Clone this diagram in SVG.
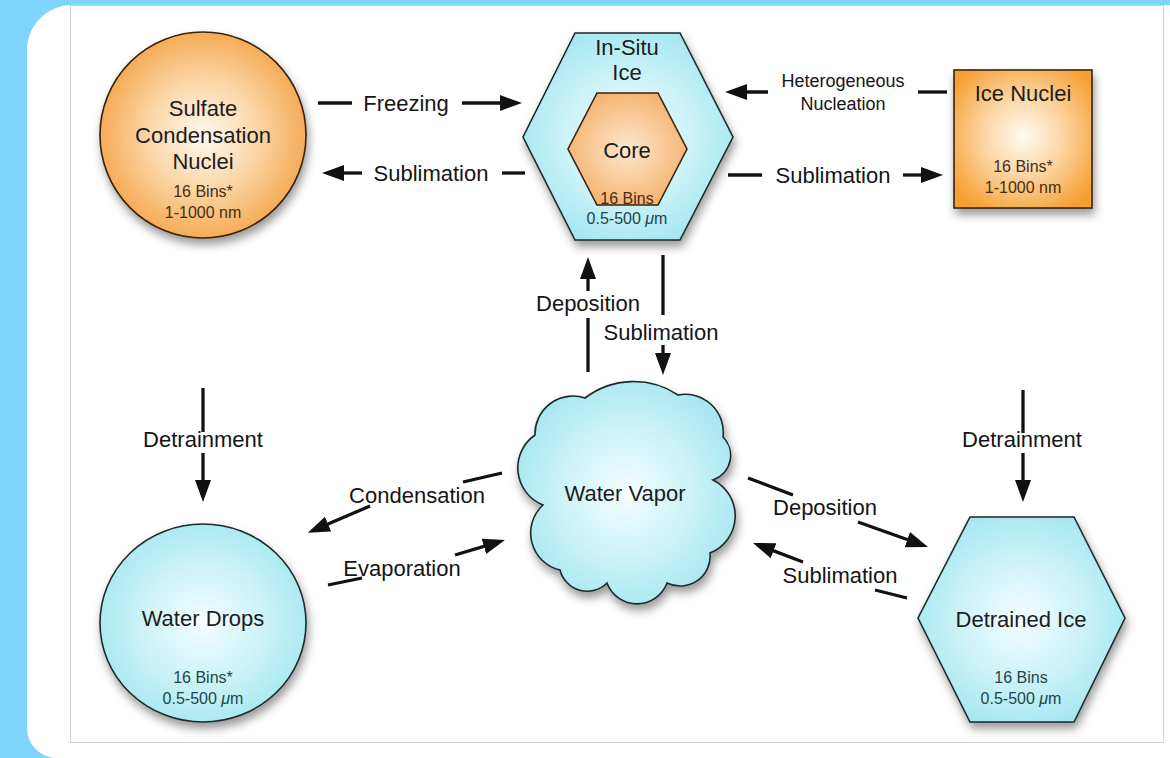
<svg xmlns="http://www.w3.org/2000/svg" width="1170" height="758" viewBox="0 0 1170 758">
<style>
.t{font-family:"Liberation Sans",Arial,Helvetica,sans-serif;fill:#1c1c1c;text-anchor:middle}
.big{font-size:22px}
.lbl{font-size:22px;fill:#151515}
.hn{font-size:18px;fill:#151515}
.sm{font-size:16px}
.smc{fill:#23444a}
.smo{fill:#4a2c10}
.ln{stroke:#111;stroke-width:3.3;fill:none}
.arr{marker-end:url(#ah)}
.nodeO{stroke:#3a230c;stroke-width:1.6}
.nodeC{stroke:#1b2a2c;stroke-width:1.6}
</style>
<defs>
<radialGradient id="gOr" cx="50%" cy="50%" r="55%">
<stop offset="0" stop-color="#fff8ef"/>
<stop offset="0.45" stop-color="#fcd9ad"/>
<stop offset="1" stop-color="#f3a346"/>
</radialGradient>
<radialGradient id="gOrB" cx="50%" cy="48%" r="62%">
<stop offset="0" stop-color="#fffaf3"/>
<stop offset="0.45" stop-color="#fcd7a6"/>
<stop offset="1" stop-color="#f69f31"/>
</radialGradient>
<radialGradient id="gCore" cx="50%" cy="50%" r="60%">
<stop offset="0" stop-color="#fde8cf"/>
<stop offset="1" stop-color="#f4ac63"/>
</radialGradient>
<radialGradient id="gCy" cx="50%" cy="50%" r="58%">
<stop offset="0" stop-color="#f4fdff"/>
<stop offset="0.5" stop-color="#cdf3f8"/>
<stop offset="1" stop-color="#a1e5ef"/>
</radialGradient>
<filter id="sh" x="-20%" y="-20%" width="140%" height="150%">
<feDropShadow dx="2" dy="6" stdDeviation="5" flood-color="#000" flood-opacity="0.4"/>
</filter>
<marker id="ah" markerUnits="userSpaceOnUse" markerWidth="24" markerHeight="18" viewBox="0 0 24 18" refX="14" refY="9" orient="auto">
<path d="M0,1 L22,9 L0,17 z" fill="#111"/>
</marker>
</defs>

<rect x="0" y="0" width="1170" height="758" fill="#7fd4fc"/>
<path d="M1170,5 H72 A45,45 0 0 0 27,50 V728 A30,30 0 0 0 57,758 H1170 Z" fill="#ffffff"/>
<rect x="70.5" y="5.5" width="1093" height="737" fill="#ffffff" stroke="#d2d2d2" stroke-width="1"/>

<g id="connectors">
<line class="ln" x1="318" y1="103" x2="352" y2="103"/>
<line class="ln arr" x1="462" y1="103" x2="514" y2="103"/>
<line class="ln" x1="502" y1="173" x2="525" y2="173"/>
<line class="ln arr" x1="362" y1="173" x2="330" y2="173"/>
<line class="ln arr" x1="768" y1="92" x2="733" y2="92"/>
<line class="ln" x1="918" y1="92" x2="947" y2="92"/>
<line class="ln" x1="728" y1="175" x2="762" y2="175"/>
<line class="ln arr" x1="903" y1="175" x2="935" y2="175"/>
<line class="ln" x1="588" y1="372" x2="588" y2="318"/>
<line class="ln arr" x1="588" y1="291" x2="588" y2="265"/>
<line class="ln" x1="663" y1="255" x2="663" y2="315"/>
<line class="ln arr" x1="663" y1="345" x2="663" y2="367"/>
<line class="ln" x1="203" y1="388" x2="203" y2="432"/>
<line class="ln arr" x1="203" y1="453" x2="203" y2="494"/>
<line class="ln" x1="1023" y1="390" x2="1023" y2="433"/>
<line class="ln arr" x1="1023" y1="453" x2="1023" y2="494"/>
<line class="ln" x1="502" y1="473" x2="463" y2="482"/>
<line class="ln arr" x1="370" y1="506" x2="315.2" y2="529.6"/>
<line class="ln" x1="328" y1="585" x2="362" y2="578"/>
<line class="ln arr" x1="455" y1="555" x2="497.3" y2="542.3"/>
<line class="ln" x1="748" y1="478" x2="793" y2="495"/>
<line class="ln arr" x1="858" y1="522" x2="920.5" y2="544.3"/>
<line class="ln" x1="907" y1="598" x2="875" y2="590"/>
<line class="ln arr" x1="803" y1="562" x2="760.5" y2="545.8"/>
<text class="t lbl" x="406" y="111">Freezing</text>
<text class="t lbl" x="431" y="181">Sublimation</text>
<text class="t hn" x="843" y="87">Heterogeneous</text>
<text class="t hn" x="843" y="110">Nucleation</text>
<text class="t lbl" x="833" y="183">Sublimation</text>
<text class="t lbl" x="588" y="311">Deposition</text>
<text class="t lbl" x="661" y="340">Sublimation</text>
<text class="t lbl" x="203" y="447">Detrainment</text>
<text class="t lbl" x="1022" y="447">Detrainment</text>
<text class="t lbl" x="417" y="503">Condensation</text>
<text class="t lbl" x="402" y="576">Evaporation</text>
<text class="t lbl" x="825" y="515">Deposition</text>
<text class="t lbl" x="840" y="583">Sublimation</text>
</g>

<g id="sulfate">
<circle cx="203" cy="135" r="103" fill="url(#gOr)" class="nodeO" filter="url(#sh)"/>
<text class="t big" x="203" y="116">Sulfate</text>
<text class="t big" x="203" y="143">Condensation</text>
<text class="t big" x="203" y="169">Nuclei</text>
<text class="t sm smo" x="203" y="197">16 Bins*</text>
<text class="t sm smo" x="203" y="218">1-1000 nm</text>
</g>

<g id="insitu">
<polygon points="575,33 680,33 733,137 680,240 575,240 523,137" fill="url(#gCy)" class="nodeC" filter="url(#sh)"/>
<text class="t big" x="627" y="55">In-Situ</text>
<text class="t big" x="627" y="80">Ice</text>
<g id="core">
<polygon points="597,93 658,93 687,149 658,205 597,205 568,149" fill="url(#gCore)" class="nodeO"/>
<text class="t big" x="627" y="158">Core</text>
<text class="t sm smo" x="627" y="204">16 Bins</text>
</g>
<text class="t sm smc" x="627" y="224">0.5-500 <tspan font-style="italic">μ</tspan>m</text>
</g>

<g id="icenuclei">
<rect x="954" y="70" width="138" height="138" fill="url(#gOrB)" class="nodeO" filter="url(#sh)"/>
<text class="t big" x="1023" y="101">Ice Nuclei</text>
<text class="t sm smo" x="1023" y="172">16 Bins*</text>
<text class="t sm smo" x="1023" y="193">1-1000 nm</text>
</g>

<g id="watervapor">
<path d="M535,435 A38,38 0 0 1 585,398 A80,80 0 0 1 678,395 A38,38 0 0 1 723,437 A26,26 0 0 1 713,480 A40,40 0 0 1 710,553 A30,30 0 0 1 667,583 A32,32 0 0 1 607,583 A28,28 0 0 1 560,570 A38,38 0 0 1 543,505 A40,40 0 0 1 535,435 Z" fill="url(#gCy)" class="nodeC" filter="url(#sh)"/>
<text class="t big" x="625" y="501">Water Vapor</text>
</g>

<g id="waterdrops">
<ellipse cx="203" cy="623" rx="103" ry="99" fill="url(#gCy)" class="nodeC" filter="url(#sh)"/>
<text class="t big" x="203" y="626">Water Drops</text>
<text class="t sm smc" x="203" y="683">16 Bins*</text>
<text class="t sm smc" x="203" y="704">0.5-500 <tspan font-style="italic">μ</tspan>m</text>
</g>

<g id="detrainedice">
<polygon points="970,517 1074,517 1125,618 1074,722 970,722 918,618" fill="url(#gCy)" class="nodeC" filter="url(#sh)"/>
<text class="t big" x="1021" y="627">Detrained Ice</text>
<text class="t sm smc" x="1021" y="683">16 Bins</text>
<text class="t sm smc" x="1021" y="704">0.5-500 <tspan font-style="italic">μ</tspan>m</text>
</g>
</svg>
